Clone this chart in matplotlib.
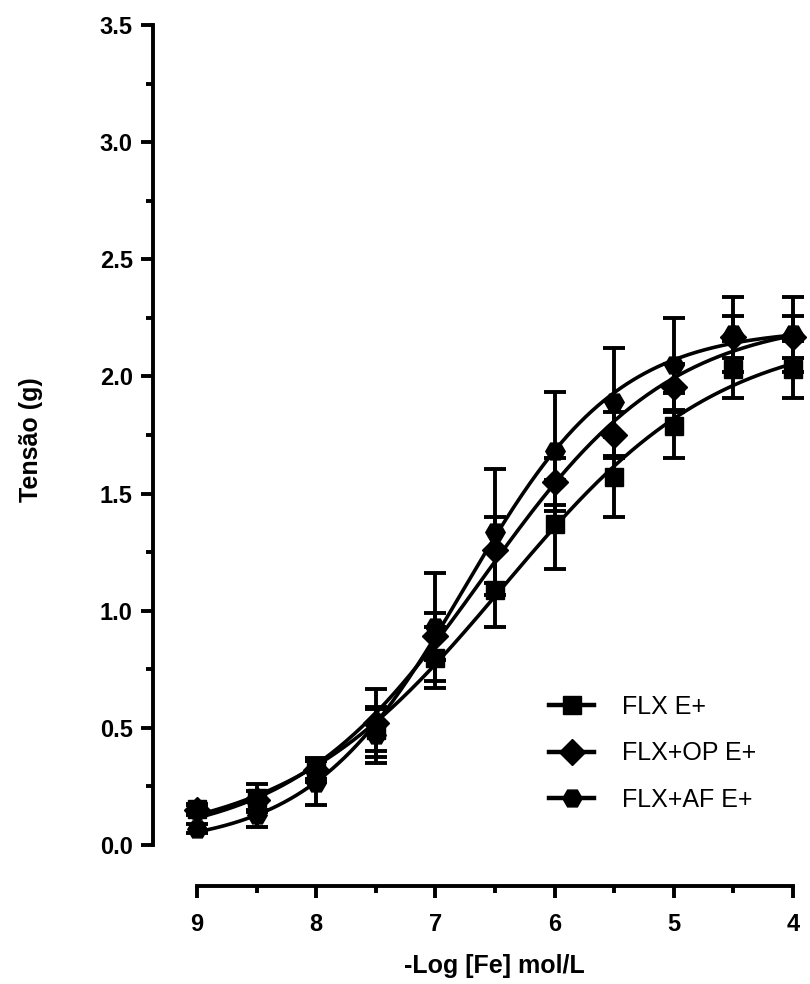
import numpy as np
import matplotlib
matplotlib.use('Agg')
import matplotlib.pyplot as plt
from matplotlib.lines import Line2D
from matplotlib.ticker import MultipleLocator, FixedLocator

# -Log [Fe] (mol/L)
log_fe = np.array([9, 8.5, 8, 7.5, 7, 6.5, 6, 5.5, 5, 4.5, 4])

flx_mean = np.array([0.155, 0.20, 0.32, 0.49, 0.80, 1.09, 1.37, 1.57, 1.79, 2.03, 2.03])
flx_err = np.array([0.02, 0.06, 0.05, 0.09, 0.13, 0.16, 0.19, 0.17, 0.14, 0.12, 0.12])

op_mean = np.array([0.15, 0.19, 0.32, 0.52, 0.89, 1.26, 1.55, 1.75, 1.955, 2.17, 2.17])
op_err = np.array([0.02, 0.04, 0.04, 0.145, 0.10, 0.14, 0.10, 0.10, 0.10, 0.09, 0.09])

af_mean = np.array([0.07, 0.13, 0.265, 0.47, 0.93, 1.335, 1.68, 1.89, 2.05, 2.18, 2.18])
af_err = np.array([0.02, 0.055, 0.095, 0.12, 0.23, 0.27, 0.255, 0.23, 0.20, 0.16, 0.16])

labels = ['FLX E+', 'FLX+OP E+', 'FLX+AF E+']
markers = ['s', 'D', 'H']
sizes = [12.5, 13, 14]

FONT = 'Liberation Sans'


def fit_sigmoid(x, y):
    # dose-response fit: grid over midpoint/slope, bottom/top by least squares
    x50 = np.arange(5.0, 8.5, 0.005)
    hill = np.arange(0.2, 2.0, 0.005)
    X50, H = np.meshgrid(x50, hill)
    X50 = X50.ravel()[:, None]
    H = H.ravel()[:, None]
    f = 1.0 / (1.0 + 10 ** ((x[None, :] - X50) * H))
    fm = f.mean(axis=1, keepdims=True)
    ym = y.mean()
    d = ((f - fm) * (y - ym)).sum(axis=1, keepdims=True) / ((f - fm) ** 2).sum(axis=1, keepdims=True)
    b = ym - d * fm
    sse = ((b + d * f - y) ** 2).sum(axis=1)
    i = np.argmin(sse)
    return b[i, 0], d[i, 0], X50[i, 0], H[i, 0]


fig = plt.figure(figsize=(8.1, 9.84), dpi=100)
ax = fig.add_axes([153 / 810, 139 / 984, 657 / 810, 820 / 984])

xs = np.linspace(9, 4, 300)
handles = []
for mean, err, lab, mk, ms in zip([flx_mean, op_mean, af_mean], [flx_err, op_err, af_err],
                                  labels, markers, sizes):
    b, d, x50, h = fit_sigmoid(log_fe, mean)
    ax.plot(xs, b + d / (1 + 10 ** ((xs - x50) * h)), color='black', lw=2.6, clip_on=False)
    ax.errorbar(log_fe, mean, yerr=err, fmt=mk, color='black', ms=ms, elinewidth=2.8,
                capsize=8, capthick=2.8, clip_on=False)
    handles.append(Line2D([], [], color='black', lw=3.2, marker=mk, ms=ms))

ax.set_xlim(9.369, 3.857)
ax.set_ylim(0, 3.5)

for s in ['top', 'right']:
    ax.spines[s].set_visible(False)
ax.spines['left'].set_linewidth(2.8)
ax.spines['bottom'].set_linewidth(2.8)
ax.spines['bottom'].set_position(('outward', 29.5))
ax.spines['bottom'].set_bounds(9, 4)

ax.xaxis.set_major_locator(FixedLocator([9, 8, 7, 6, 5, 4]))
ax.xaxis.set_minor_locator(FixedLocator([8.5, 7.5, 6.5, 5.5, 4.5]))
ax.set_xticklabels(['9', '8', '7', '6', '5', '4'])
ax.yaxis.set_major_locator(MultipleLocator(0.5))
ax.yaxis.set_minor_locator(MultipleLocator(0.25))
ax.set_yticks(np.arange(0, 3.51, 0.5))
ax.set_yticklabels(['%.1f' % v for v in np.arange(0, 3.51, 0.5)])

ax.tick_params(which='major', length=8.6, width=2.8, direction='out', labelsize=17)
ax.tick_params(axis='y', which='major', pad=6)
ax.tick_params(axis='x', which='major', pad=11)
ax.tick_params(which='minor', length=5, width=2.8, direction='out')
for t in ax.get_xticklabels() + ax.get_yticklabels():
    t.set_fontweight('bold')
    t.set_fontfamily(FONT)

ax.set_ylabel('Tensão (g)', fontsize=18, fontweight='bold', family=FONT)
ax.yaxis.set_label_coords(-0.167, 0.494)
ax.set_xlabel('-Log [Fe] mol/L', fontsize=18, fontweight='bold', family=FONT)
ax.xaxis.set_label_coords(0.52, -0.133)

ax.legend(handles, labels, loc='upper left', bbox_to_anchor=(0.603, 0.183), frameon=False,
          prop={'family': FONT, 'size': 18}, handlelength=1.8,
          handletextpad=1.1, labelspacing=0.9, borderaxespad=0, borderpad=0)

fig.savefig('out.png', dpi=100)
